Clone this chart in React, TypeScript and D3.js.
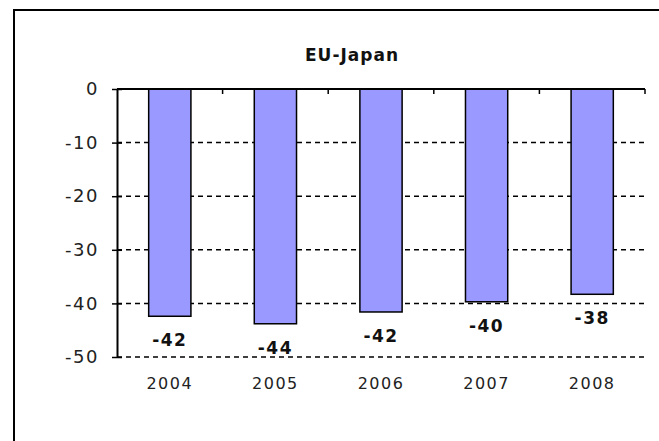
import React, { useEffect, useRef } from 'react';
import * as d3 from 'd3';

const years = ['2004', '2005', '2006', '2007', '2008'];
const balance = [-42.4, -43.8, -41.6, -39.7, -38.3];
const yTicks = [0, -10, -20, -30, -40, -50];

const App = () => {
  const ref = useRef<SVGSVGElement>(null);

  useEffect(() => {
    const left = 117;
    const right = 645;
    const top = 89;
    const bottom = 357;

    const svg = d3.select(ref.current);
    svg.selectAll('*').remove();

    // frame of the chart area (only top/left edges visible in crop)
    svg.append('path')
      .attr('d', 'M14,441 V10 H659')
      .attr('fill', 'none').attr('stroke', 'black').attr('stroke-width', 2);

    const x = d3.scaleBand().domain(years).range([left, right]).paddingInner(0.6).paddingOuter(0.3);
    const xb = d3.scaleBand().domain(years).range([left, right]);
    const y = d3.scaleLinear().domain([0, -50]).range([top, bottom]);

    const font = '"DejaVu Sans", Verdana, sans-serif';

    svg.append('text')
      .attr('x', 352).attr('y', 61)
      .attr('text-anchor', 'middle')
      .attr('font-family', font).attr('font-weight', 'bold').attr('font-size', 17)
      .attr('letter-spacing', 1)
      .attr('fill', '#111')
      .text('EU-Japan');

    // dashed gridlines
    svg.append('g').selectAll('line')
      .data(yTicks.filter(d => d !== 0))
      .join('line')
      .attr('x1', left).attr('x2', right)
      .attr('y1', d => y(d)).attr('y2', d => y(d))
      .attr('stroke', 'black').attr('stroke-width', 1.5)
      .attr('stroke-dasharray', '5,4');

    // bars
    svg.append('g').selectAll('rect')
      .data(balance)
      .join('rect')
      .attr('x', (_, i) => x(years[i])!)
      .attr('y', y(0))
      .attr('width', x.bandwidth())
      .attr('height', d => y(d) - y(0))
      .attr('fill', '#9999ff')
      .attr('stroke', 'black').attr('stroke-width', 1.5);

    // value labels
    svg.append('g').selectAll('text')
      .data(balance)
      .join('text')
      .attr('x', (_, i) => x(years[i])! + x.bandwidth() / 2)
      .attr('y', d => y(d) + 30)
      .attr('text-anchor', 'middle')
      .attr('font-family', font).attr('font-weight', 'bold').attr('font-size', 17)
      .attr('letter-spacing', 1.5)
      .attr('fill', '#111')
      .text(d => String(Math.round(d)));

    // y axis
    const yAxis = svg.append('g').attr('transform', `translate(${left},0)`)
      .call(d3.axisLeft(y).tickValues(yTicks).tickSize(0).tickPadding(18).tickFormat(d => String(d)));
    yAxis.select('.domain').attr('stroke', 'black').attr('stroke-width', 2);
    yAxis.selectAll('text')
      .attr('font-family', font).attr('font-size', 18).attr('letter-spacing', 1.5).attr('fill', '#222');
    yAxis.selectAll('.tick').append('line')
      .attr('x1', -5).attr('x2', 5).attr('stroke', 'black').attr('stroke-width', 1.5);

    // x axis along zero line
    const xAxis = svg.append('g').attr('transform', `translate(0,${top})`);
    xAxis.append('line')
      .attr('x1', left).attr('x2', right)
      .attr('stroke', 'black').attr('stroke-width', 2);
    xAxis.selectAll('line.tk')
      .data(years.slice(1).concat(['end']))
      .join('line')
      .attr('class', 'tk')
      .attr('x1', d => d === 'end' ? right : xb(d)!)
      .attr('x2', d => d === 'end' ? right : xb(d)!)
      .attr('y1', 0).attr('y2', 5)
      .attr('stroke', 'black').attr('stroke-width', 1.5);

    // year labels below plot
    svg.append('g').selectAll('text')
      .data(years)
      .join('text')
      .attr('x', d => xb(d)! + xb.bandwidth() / 2)
      .attr('y', 389)
      .attr('text-anchor', 'middle')
      .attr('font-family', font).attr('font-size', 16)
      .attr('letter-spacing', 1.5)
      .attr('fill', '#222')
      .text(d => d);
  }, []);

  return (
    <svg ref={ref} width={659} height={441}
      style={{ position: 'absolute', left: 0, top: 0, background: 'white' }} />
  );
};

export default App;
